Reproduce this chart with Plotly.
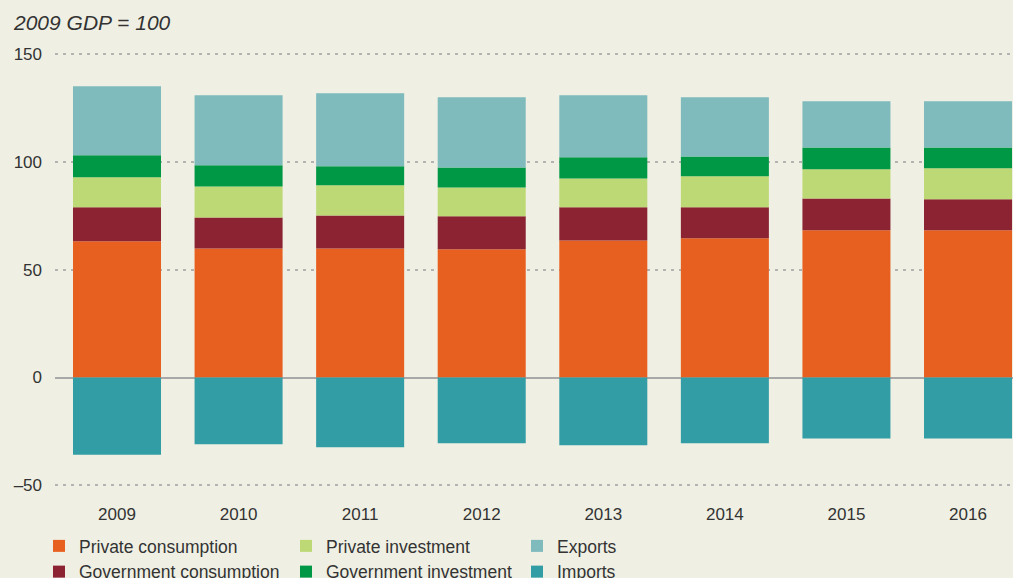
import plotly.graph_objects as go

years = ["2009", "2010", "2011", "2012", "2013", "2014", "2015", "2016"]
private_consumption = [63.2, 59.9, 59.9, 59.5, 63.6, 64.6, 68.3, 68.3]
government_consumption = [15.8, 14.4, 15.3, 15.3, 15.4, 14.4, 14.8, 14.4]
private_investment = [13.9, 14.4, 14.0, 13.4, 13.4, 14.4, 13.5, 14.4]
government_investment = [10.2, 9.8, 8.8, 9.3, 9.8, 9.2, 10.2, 9.7]
exports = [32.1, 32.5, 33.9, 32.6, 28.8, 27.5, 21.4, 21.4]
imports = [-35.8, -31.0, -32.4, -30.5, -31.4, -30.5, -28.3, -28.3]

y_tickvals = [-50, 0, 50, 100, 150]
y_ticktext = ["\u201350", "0", "50", "100", "150"]

series = [
    ("Private consumption", private_consumption, "#E8601F", "legend", 1),
    ("Government consumption", government_consumption, "#8B2332", "legend", 2),
    ("Private investment", private_investment, "#BDD975", "legend2", 3),
    ("Government investment", government_investment, "#009845", "legend2", 4),
    ("Exports", exports, "#7FBABD", "legend3", 5),
    ("Imports", imports, "#339DA5", "legend3", 6),
]

fig = go.Figure()
for name, vals, color, leg, rank in series:
    fig.add_trace(go.Bar(
        x=years, y=vals, name=name, marker=dict(color=color, line=dict(width=0)),
        legend=leg, legendrank=rank,
    ))

bg = "#EFF0E3"
text_col = "#333333"
leg_common = dict(
    orientation="v", xref="container", yref="container", xanchor="left", yanchor="top",
    y=1 - 528 / 578, bgcolor="rgba(0,0,0,0)", itemwidth=30, tracegroupgap=0,
    font=dict(family="Liberation Sans, Arial, sans-serif", size=17.5, color=text_col),
)

fig.update_layout(
    width=1013, height=578,
    paper_bgcolor=bg, plot_bgcolor=bg,
    barmode="relative", bargap=0.276,
    margin=dict(l=55, r=0, t=50, b=82, autoexpand=False),
    font=dict(family="Liberation Sans, Arial, sans-serif", color=text_col),
    xaxis=dict(
        type="category", range=[-0.51, 7.37], showgrid=False, zeroline=False,
        showline=False, ticks="", ticklabelstandoff=6, tickangle=0, automargin=False,
        tickfont=dict(family="Liberation Sans Narrow, Liberation Sans, sans-serif", size=17, color=text_col),
    ),
    yaxis=dict(
        range=[-55, 152], tickvals=y_tickvals, ticktext=y_ticktext, automargin=False,
        showgrid=True, gridcolor="#B3B3B3", gridwidth=1.5, griddash="3px,5px",
        zeroline=True, zerolinecolor="#A8A8A8", zerolinewidth=1.5,
        showline=False, ticks="", ticklabelstandoff=12,
        tickfont=dict(family="Liberation Sans, Arial, sans-serif", size=17, color=text_col),
    ),
    legend=dict(x=39 / 1013, **leg_common),
    legend2=dict(x=286 / 1013, **leg_common),
    legend3=dict(x=517 / 1013, **leg_common),
    annotations=[dict(
        text="<i>2009 GDP = 100</i>", xref="paper", yref="paper",
        x=-(55 - 11) / 958, y=1 + (50 - 22) / 446, xanchor="left", yanchor="middle",
        showarrow=False,
        font=dict(family="Liberation Sans, Arial, sans-serif", size=21, color=text_col),
    )],
)

fig.write_html("out.html", config={"displayModeBar": False},
               post_script="document.body.style.margin='0';")
